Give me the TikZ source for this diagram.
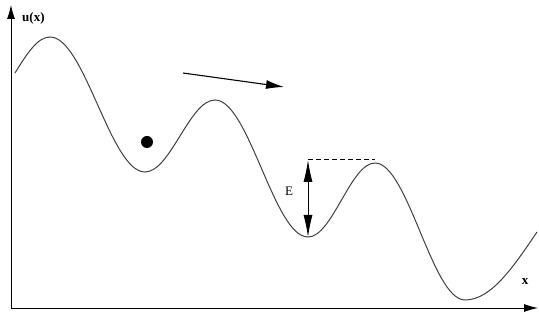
\documentclass[tikz,border=0pt]{standalone}
\usepackage{fontspec}
\setmainfont{Liberation Serif}
\usetikzlibrary{arrows.meta}
\begin{document}
\begin{tikzpicture}[x=1pt,y=-1pt,
  axis/.style={line width=0.9pt,-{Latex[length=14pt,width=8pt]}},
  curve/.style={line width=1pt,draw=black!75},
  lbl/.style={font=\fontsize{13}{15}\selectfont\bfseries,inner sep=0pt},
  energy/.style={line width=0.9pt,{Latex[length=22pt,width=9pt]}-{Latex[length=22pt,width=9pt]}}]
\useasboundingbox (0,0) rectangle (539,320);
\coordinate (O) at (11,308);
\coordinate (Ytip) at (11,5);
\coordinate (Xtip) at (538,308);
\draw[axis] (O) -- (Ytip);
\draw[axis] (O) -- (Xtip);
\node[lbl,anchor=west] (ulbl) at (22,18) {u(x)};
\node[lbl] (xlbl) at (525,282) {x};
% potential curve
\draw[curve] (15,73) sin (50,37) cos (97.5,104.5) sin (145,172) cos (180,136)
  sin (215,100) cos (261.5,168.5) sin (308,237) cos (341.5,200)
  sin (375,163) cos (420,231.5) sin (465,300) cos (537,232);
% ball
\node[circle,fill=black,minimum size=12pt,inner sep=0pt] (ball) at (147,142) {};
% motion arrow
\coordinate (m1) at (183,73);
\coordinate (m2) at (284,87);
\draw[line width=1.1pt,-{Latex[length=18pt,width=9pt]}] (m1) -- (m2);
% energy barrier
\coordinate (Etop) at (308,160);
\coordinate (Ebot) at (308,237);
\coordinate (Dend) at (375,160);
\draw[line width=1pt,dashed,dash pattern=on 5pt off 3pt] (Etop) -- (Dend);
\draw[energy] (Etop) -- (Ebot);
\node[font=\fontsize{13}{15}\selectfont,inner sep=0pt] (Elbl) at (289,191) {E};
\end{tikzpicture}
\end{document}
